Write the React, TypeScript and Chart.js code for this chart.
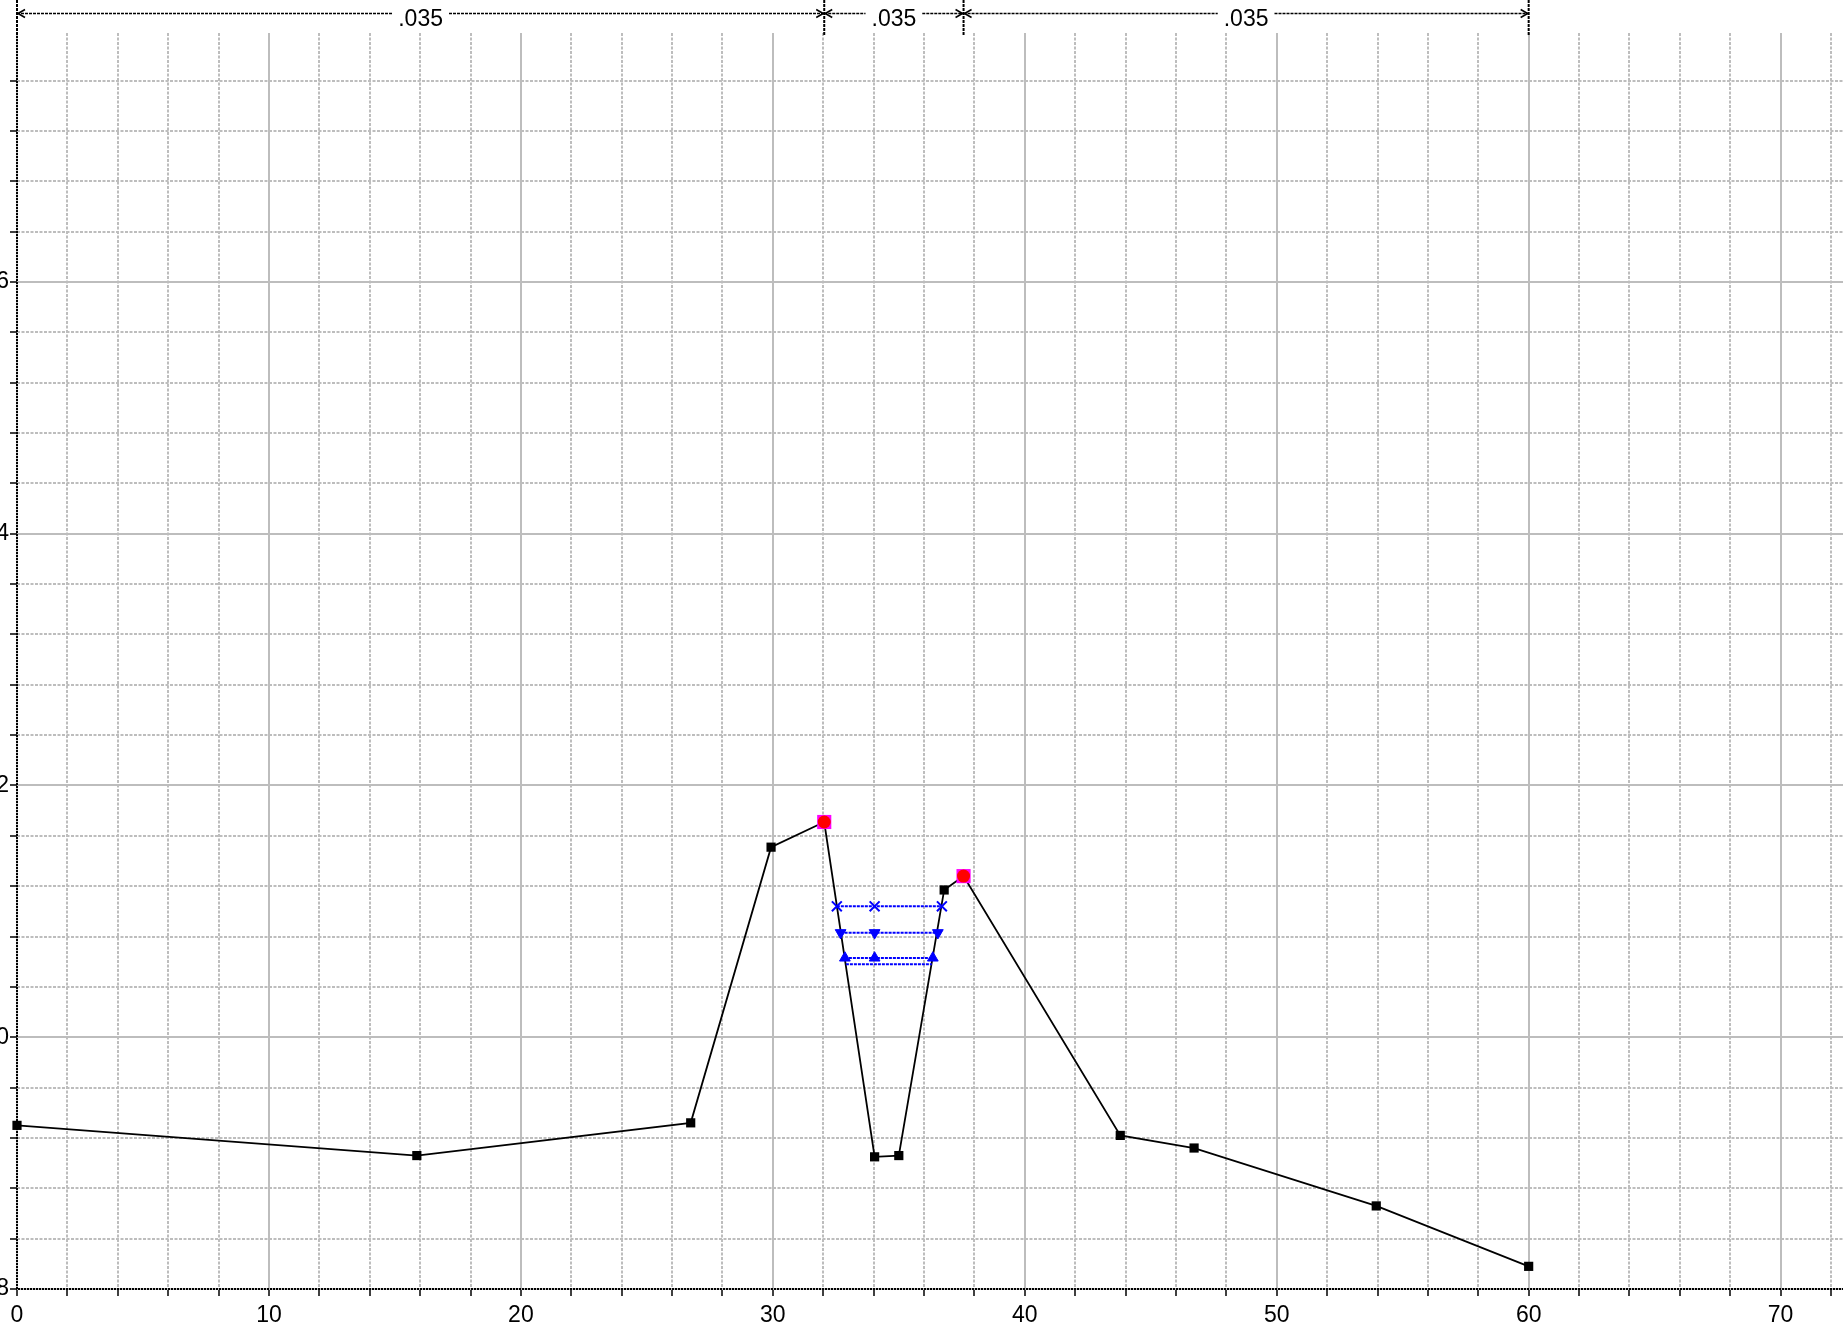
import React, { useEffect, useRef } from 'react';
import { Chart, registerables } from 'chart.js';

Chart.register(...registerables);

// ---- data (station / elevation) ----
const groundStation = [0, 15.87, 26.74, 29.93, 32.04, 34.04, 35.0, 36.8, 37.57, 43.79, 46.72, 53.95, 60.0];
const groundElev = [109.3, 109.06, 109.32, 111.51, 111.71, 109.05, 109.06, 111.17, 111.28, 109.22, 109.12, 108.66, 108.18];

const bankStation = [32.04, 37.57];
const bankElev = [111.71, 111.28];

const ws1Station = [32.54, 34.04, 36.71];
const ws1Elev = [111.04, 111.04, 111.04];
const ws2Station = [32.69, 34.04, 36.55];
const ws2Elev = [110.83, 110.83, 110.83];
const ws3Station = [32.86, 34.04, 36.35];
const ws3Elev = [110.63, 110.63, 110.63];
const ws4Station = [32.9, 36.31];
const ws4Elev = [110.58, 110.58];

const nStations = [0, 32.04, 37.57, 60];
const nValues = ['.035', '.035', '.035'];

const xLabelValues = [0, 10, 20, 30, 40, 50, 60, 70];
const yLabelValues = [108, 110, 112, 114, 116];

const X_MIN = 0;
const X_MAX = 73.27;
const X_STEP = 2;
const Y_MIN = 108;
const Y_MAX = 117.978;
const Y_STEP = 0.4;

const FONT = "'Liberation Sans', Arial, Helvetica, sans-serif";
const CANVAS_W = 1913;
const CANVAS_H = 1329;
const LEFT_SHIFT = 40;

const toPts = (xs: number[], ys: number[]) => xs.map((x, i) => ({ x, y: ys[i] }));
const isOn = (v: number, list: number[]) => list.some((l) => Math.abs(l - v) < 1e-6);

export default function App() {
  const ref = useRef<HTMLCanvasElement>(null);

  useEffect(() => {
    const canvas = ref.current;
    if (!canvas) return;

    const axisPlugin = {
      id: 'axisLines',
      beforeDatasetsDraw(chart: any) {
        const { ctx, chartArea: a } = chart;
        ctx.save();
        ctx.strokeStyle = '#000';
        ctx.lineWidth = 2;
        ctx.setLineDash([2, 1]);
        ctx.beginPath();
        ctx.moveTo(a.left, a.top);
        ctx.lineTo(a.left, a.bottom);
        ctx.lineTo(a.right, a.bottom);
        ctx.stroke();
        ctx.restore();
      },
    };

    const nPlugin = {
      id: 'nValues',
      afterDraw(chart: any) {
        const { ctx, chartArea: a } = chart;
        const xs = chart.scales.x;
        const px = nStations.map((s) => xs.getPixelForValue(s));
        const yLine = 13.5;
        ctx.save();
        ctx.strokeStyle = '#000';
        ctx.fillStyle = '#000';
        ctx.lineWidth = 2;
        ctx.setLineDash([3, 1]);
        px.forEach((p) => {
          ctx.beginPath();
          ctx.moveTo(p, 0);
          ctx.lineTo(p, a.top + 2);
          ctx.stroke();
        });
        ctx.font = `23px ${FONT}`;
        ctx.textAlign = 'center';
        ctx.textBaseline = 'alphabetic';
        for (let i = 0; i < nValues.length; i++) {
          const l = px[i];
          const r = px[i + 1];
          const mid = (l + r) / 2;
          const w = ctx.measureText(nValues[i]).width;
          const gap = w / 2 + 6;
          ctx.lineWidth = 1.6;
          ctx.setLineDash([3, 1]);
          ctx.beginPath();
          ctx.moveTo(l, yLine);
          ctx.lineTo(mid - gap, yLine);
          ctx.moveTo(mid + gap, yLine);
          ctx.lineTo(r, yLine);
          ctx.stroke();
          ctx.setLineDash([]);
          ctx.lineWidth = 1.6;
          ctx.beginPath();
          ctx.moveTo(l + 8, yLine - 4);
          ctx.lineTo(l + 1, yLine);
          ctx.lineTo(l + 8, yLine + 4);
          ctx.moveTo(r - 8, yLine - 4);
          ctx.lineTo(r - 1, yLine);
          ctx.lineTo(r - 8, yLine + 4);
          ctx.stroke();
          ctx.fillText(nValues[i], mid, 26);
        }
        ctx.restore();
      },
    };

    const gridColor = '#bdbdbd';
    const blue = '#0000ff';

    const chart = new Chart(canvas, {
      type: 'scatter',
      data: {
        datasets: [
          {
            label: 'Bank Sta',
            data: toPts(bankStation, bankElev),
            showLine: false,
            pointStyle: 'circle',
            pointRadius: 6.5,
            pointBackgroundColor: '#ff0000',
            pointBorderColor: '#ff0000',
            pointBorderWidth: 0,
            order: 0,
            clip: false,
          } as any,
          {
            label: 'Bank Sta frame',
            data: toPts(bankStation, bankElev),
            showLine: false,
            pointStyle: 'rect',
            pointRadius: 10,
            pointBackgroundColor: '#ff00ff',
            pointBorderColor: '#ff00ff',
            pointBorderWidth: 0,
            order: 1,
            clip: false,
          } as any,
          {
            label: 'WS 1',
            data: toPts(ws1Station, ws1Elev),
            showLine: true,
            borderColor: blue,
            borderWidth: 2,
            borderDash: [3, 1],
            pointStyle: 'crossRot',
            pointRadius: 7,
            pointBorderColor: blue,
            pointBackgroundColor: blue,
            pointBorderWidth: 2,
            order: 2,
          } as any,
          {
            label: 'WS 2',
            data: toPts(ws2Station, ws2Elev),
            showLine: true,
            borderColor: blue,
            borderWidth: 2,
            borderDash: [3, 1],
            pointStyle: 'triangle',
            pointRotation: 180,
            pointRadius: 6.2,
            pointBorderColor: blue,
            pointBackgroundColor: blue,
            pointBorderWidth: 1,
            order: 3,
          } as any,
          {
            label: 'WS 3',
            data: toPts(ws3Station, ws3Elev),
            showLine: true,
            borderColor: blue,
            borderWidth: 2,
            borderDash: [3, 1],
            pointStyle: 'triangle',
            pointRadius: 6.2,
            pointBorderColor: blue,
            pointBackgroundColor: blue,
            pointBorderWidth: 1,
            order: 4,
          } as any,
          {
            label: 'WS 4',
            data: toPts(ws4Station, ws4Elev),
            showLine: true,
            borderColor: blue,
            borderWidth: 2,
            borderDash: [3, 1],
            pointRadius: 0,
            order: 5,
          } as any,
          {
            label: 'Ground',
            data: toPts(groundStation, groundElev),
            showLine: true,
            borderColor: '#000',
            borderWidth: 1.8,
            pointStyle: 'rect',
            pointRadius: 6.5,
            pointBackgroundColor: '#000',
            pointBorderColor: '#000',
            pointBorderWidth: 0,
            order: 6,
            clip: false,
          } as any,
        ],
      },
      options: {
        responsive: false,
        animation: false,
        devicePixelRatio: 1,
        layout: { padding: { top: 33, right: 0, bottom: 0, left: 0 } },
        plugins: {
          legend: { display: false },
          tooltip: { enabled: false },
        },
        scales: {
          x: {
            type: 'linear',
            position: 'bottom',
            min: X_MIN,
            max: X_MAX,
            bounds: 'data',
            afterFit: (s: any) => {
              s.height = 40;
            },
            ticks: {
              stepSize: X_STEP,
              includeBounds: false,
              autoSkip: false,
              maxRotation: 0,
              minRotation: 0,
              padding: 6,
              color: '#000',
              font: { family: FONT, size: 23 },
              callback: (v: any) => (isOn(Number(v), xLabelValues) ? String(Math.round(Number(v))) : ''),
            },
            grid: {
              color: gridColor,
              lineWidth: 2,
              tickColor: '#000',
              tickLength: 7,
              tickWidth: 1.5,
            },
            border: {
              display: false,
              dash: (c: any) => (c.tick && isOn(c.tick.value, xLabelValues) ? [] : [3, 1.5]),
            },
          } as any,
          y: {
            type: 'linear',
            position: 'left',
            min: Y_MIN,
            max: Y_MAX,
            bounds: 'data',
            afterFit: (s: any) => {
              s.width = LEFT_SHIFT + 17;
            },
            ticks: {
              stepSize: Y_STEP,
              includeBounds: false,
              autoSkip: false,
              padding: 1,
              color: '#000',
              font: { family: FONT, size: 23 },
              callback: (v: any) => (isOn(Number(v), yLabelValues) ? String(Math.round(Number(v))) : ''),
            },
            grid: {
              color: gridColor,
              lineWidth: 2,
              tickColor: '#000',
              tickLength: 7,
              tickWidth: 1.5,
            },
            border: {
              display: false,
              dash: (c: any) => (c.tick && isOn(c.tick.value, yLabelValues) ? [] : [3, 1.5]),
            },
          } as any,
        },
      },
      plugins: [axisPlugin, nPlugin],
    });

    return () => chart.destroy();
  }, []);

  return (
    <div
      style={{
        position: 'fixed',
        left: 0,
        top: 0,
        width: 1843,
        height: 1329,
        overflow: 'hidden',
        background: '#fff',
      }}
    >
      <canvas
        ref={ref}
        width={CANVAS_W}
        height={CANVAS_H}
        style={{ position: 'absolute', left: -LEFT_SHIFT, top: 0, width: CANVAS_W, height: CANVAS_H }}
      />
    </div>
  );
}
